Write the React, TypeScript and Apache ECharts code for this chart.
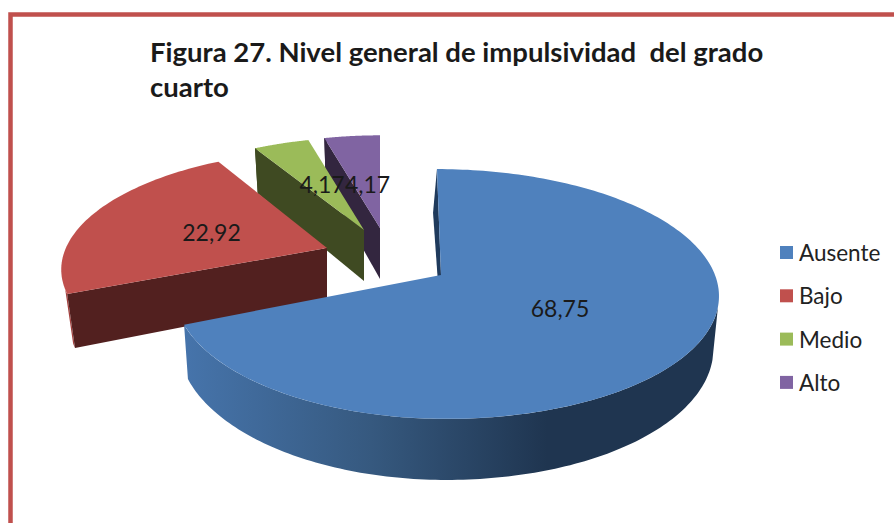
import React, { useEffect, useRef } from "react";
import * as echarts from "echarts";

const titleLines = ["Figura 27. Nivel general de impulsividad  del grado", "cuarto"];
const categories = ["Ausente", "Bajo", "Medio", "Alto"];
const values = [68.75, 22.92, 4.17, 4.17];
const colors = ["#4f81bd", "#c0504d", "#9bbb59", "#8064a2"];

// Projection of the tilted disc (perspective) and per-slice explosion layout.
const RX = 274;
const RY = 122;
const PERSPECTIVE = 0.152;
const WALL_BASE = 51;
const WALL_GROW = 0.07;

const layouts = [
  { ax: 441, ay: 275, sxL: 0.963, sxR: 1, sy: 1, shear: -0.038, lowL: 0.985, lowR: 0.98, cutDx: -4, cutFill: "#1f3a5c", arcFrom: 0.29, arcSpan: 0, arcFill: "gradient", labelX: 560, labelY: 308, z: 4 },
  { ax: 327, ay: 248, sxL: 0.953, sxR: 0.953, sy: 0.925, shear: 0.08, lowL: 0.97, lowR: 0.97, cutDx: 0, cutFill: "#52201f", arcFrom: 0, arcSpan: 0.006, arcFill: "#a5413f", labelX: 211.5, labelY: 232, z: 3 },
  { ax: 364, ay: 230, sxL: 0.9, sxR: 0.9, sy: 0.875, shear: 0, lowL: 0.975, lowR: 0.975, cutDx: 0, cutFill: "#3f4a22", arcFrom: 0, arcSpan: 0.002, arcFill: "#3f4a22", labelX: 322, labelY: 184, z: 2 },
  { ax: 380, ay: 228, sxL: 0.9, sxR: 0.9, sy: 0.875, shear: 0, lowL: 0.975, lowR: 0.975, cutDx: 0, cutFill: "#33263f", arcFrom: 0, arcSpan: 0.002, arcFill: "#33263f", labelX: 367.5, labelY: 184, z: 1 },
];

const total = values.reduce((a, b) => a + b, 0);
const TAU = Math.PI * 2;

function rimPoint(i: number, theta: number): [number, number] {
  const l = layouts[i];
  const u = Math.sin(theta);
  const v = Math.cos(theta);
  const w = 1 + PERSPECTIVE * v;
  const yUp = (RY * l.sy * v) / w;
  const x = ((RX * (u < 0 ? l.sxL : l.sxR) * u) / w) + l.shear * yUp;
  return [x, -yUp];
}

function top(i: number, p: [number, number]): number[] {
  return [layouts[i].ax + p[0], layouts[i].ay + p[1]];
}
function low(i: number, p: [number, number]): number[] {
  const l = layouts[i];
  return [l.ax + p[0] * (p[0] < 0 ? l.lowL : l.lowR), l.ay + p[1] + WALL_BASE + WALL_GROW * p[1]];
}

function sweep(a: number, b: number, n: number): number[] {
  const out: number[] = [];
  for (let k = 0; k <= n; k++) out.push(a + ((b - a) * k) / n);
  return out;
}

function makeRenderItem(i: number) {
  return (_params: any, api: any) => {
    const value = api.value(0);
    let before = 0;
    for (let k = 0; k < i; k++) before += values[k];
    const a0 = (before / total) * TAU;
    const a1 = a0 + (value / total) * TAU;
    const l = layouts[i];
    const children: any[] = [];

    const wallAngles = i === 0 ? sweep(l.arcFrom * TAU, a1, 140) : sweep(a0, a0 + l.arcSpan * TAU, 6);
    const wallTop = wallAngles.map((t) => top(i, rimPoint(i, t)));
    const wallLow = wallAngles.map((t) => low(i, rimPoint(i, t))).reverse();
    const arcFill =
      l.arcFill === "gradient"
        ? new echarts.graphic.LinearGradient(1, 0, 0, 0, [
            { offset: 0, color: "#1f3550" },
            { offset: 0.32, color: "#1f3550" },
            { offset: 0.65, color: "#36597f" },
            { offset: 1, color: "#4674ab" },
          ])
        : l.arcFill;
    children.push({
      type: "polygon",
      z2: l.z * 10,
      shape: { points: wallTop.concat(wallLow) },
      style: { fill: arcFill },
    });

    const edge = rimPoint(i, a0);
    const edgeTop = top(i, edge);
    const edgeLow = low(i, edge);
    children.push({
      type: "polygon",
      z2: l.z * 10 + 1,
      shape: {
        points: [
          [l.ax, l.ay],
          edgeTop,
          [edgeLow[0] + l.cutDx, edgeLow[1]],
          [l.ax, l.ay + WALL_BASE],
        ],
      },
      style: { fill: l.cutFill },
    });

    const facePts = sweep(a0, a1, i === 0 ? 200 : 60).map((t) => top(i, rimPoint(i, t)));
    children.push({
      type: "polygon",
      z2: l.z * 10 + 2,
      shape: { points: [[l.ax, l.ay]].concat(facePts) },
      style: { fill: colors[i] },
    });

    children.push({
      type: "text",
      z2: 100,
      x: l.labelX,
      y: l.labelY,
      style: {
        text: String(value).replace(".", ","),
        fill: "#1a1a1a",
        font: "23px Lato",
        textAlign: "center",
        textVerticalAlign: "middle",
      },
    });

    return { type: "group", children };
  };
}

export default function App() {
  const ref = useRef<HTMLDivElement>(null);
  useEffect(() => {
    const chart = echarts.init(ref.current!, undefined, { renderer: "svg" });
    chart.setOption({
      animation: false,
      backgroundColor: "#ffffff",
      title: {
        text: titleLines.join("\n"),
        left: 150,
        top: 34,
        padding: 0,
        textStyle: {
          fontFamily: "Lato",
          fontWeight: "bold",
          fontSize: 27.5,
          lineHeight: 35,
          color: "#1a1a1a",
        },
      },
      legend: {
        orient: "vertical",
        left: 780,
        top: 241,
        padding: 0,
        icon: "rect",
        itemWidth: 13,
        itemHeight: 13,
        itemGap: 20.3,
        data: categories,
        selectedMode: false,
        textStyle: { fontFamily: "Lato", fontSize: 22.5, color: "#222222", padding: [0, 0, 0, 1] },
      },
      graphic: [
        {
          type: "polyline",
          silent: true,
          shape: { points: [[10.5, 523], [10.5, 14.6], [894, 14.6]] },
          style: { stroke: "#c0504d", lineWidth: 4.5, fill: "none" },
        },
      ],
      series: categories.map((name, i) => ({
        type: "custom",
        name,
        coordinateSystem: "none",
        renderItem: makeRenderItem(i),
        itemStyle: { color: colors[i] },
        data: [[values[i]]],
        silent: true,
      })),
    });
    return () => chart.dispose();
  }, []);
  return <div ref={ref} style={{ position: "fixed", left: 0, top: 0, width: 894, height: 523 }} />;
}
